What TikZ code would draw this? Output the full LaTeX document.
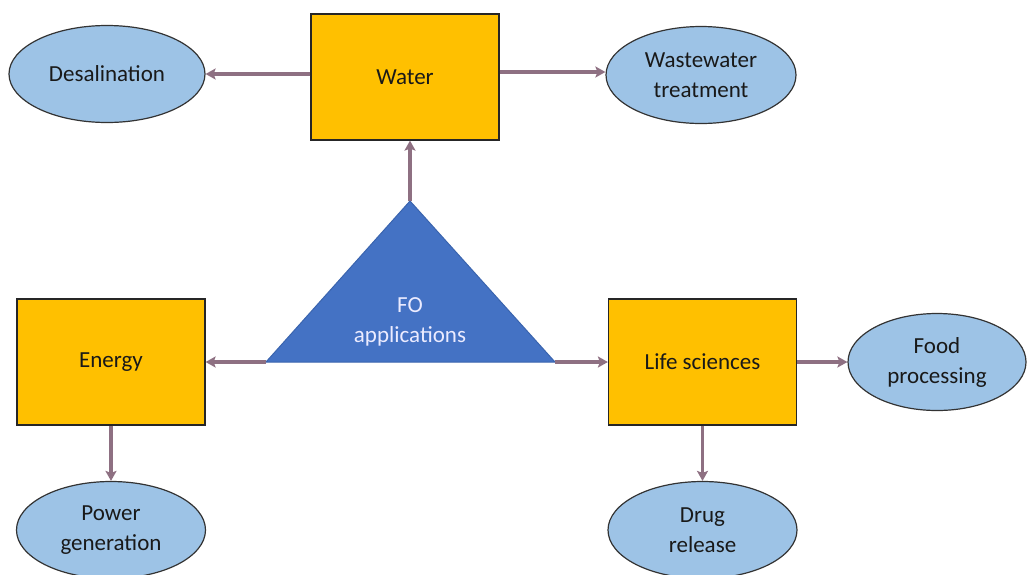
\documentclass[tikz,border=0pt]{standalone}
\usepackage{fontspec}
\setmainfont{Carlito}
\usetikzlibrary{shapes.geometric,arrows.meta}
\definecolor{boxy}{HTML}{FFC000}
\definecolor{ellb}{HTML}{9DC3E6}
\definecolor{triblue}{HTML}{4472C4}
\definecolor{triedge}{HTML}{3A64AE}
\definecolor{conn}{HTML}{8E7082}
\tikzset{
  box/.style={draw=black!85, line width=1.2pt, fill=boxy, minimum width=188pt, minimum height=126pt, inner sep=0pt, text=black!90},
  oval/.style={ellipse, draw=black!80, line width=1.2pt, fill=ellb, minimum width=#1, minimum height=97pt, inner sep=0pt, align=center, text=black!90},
  oval/.default=190pt,
  conarrow/.style={draw=conn, line width=3.2pt, -{Stealth[length=10pt,width=11pt,inset=2pt]}},
}
\begin{document}
\begin{tikzpicture}[x=1pt,y=-1pt, font=\fontsize{23}{30}\selectfont]
\useasboundingbox (0,0) rectangle (1027,574);
\begin{scope}
\clip (0,0) rectangle (1027,574);
% boxes
\node[box] (water) at (405,77) {Water};
\node[box] (energy) at (111,362) {Energy};
\node[box] (life) at (702.5,362) {Life sciences};
% ellipses
\node[oval=196pt] (desal) at (107,74) {Desalination};
\node[oval=190pt] (waste) at (701,75) {Wastewater\\treatment};
\node[oval=178pt] (food) at (937,362) {Food\\processing};
\node[oval=189pt] (power) at (111,530) {Power\\generation};
\node[oval=189pt] (drug) at (702.5,530) {Drug\\release};
% triangle
\coordinate (tA) at (410,201);
\coordinate (tL) at (266,362);
\coordinate (tR) at (555,362);
\draw[triedge, line width=1pt, fill=triblue] (tA) -- (tR) -- (tL) -- cycle;
\node[text=white!92!blue, align=center] (fo) at (410,322) {FO\\applications};
% connectors
\coordinate (wr) at (water.east |- 0,72);
\draw[conarrow] (tA) -- (water.south -| tA);
\draw[conarrow] (tL) -- (energy.east);
\draw[conarrow] (tR) -- (life.west);
\draw[conarrow] (water.west |- desal.east) -- (desal.east);
\draw[conarrow] (wr) -- (waste.west |- wr);
\draw[conarrow] (life.east) -- (food.west);
\draw[conarrow] (energy.south) -- (power.north);
\draw[conarrow] (life.south) -- (drug.north);
\end{scope}
\end{tikzpicture}
\end{document}
